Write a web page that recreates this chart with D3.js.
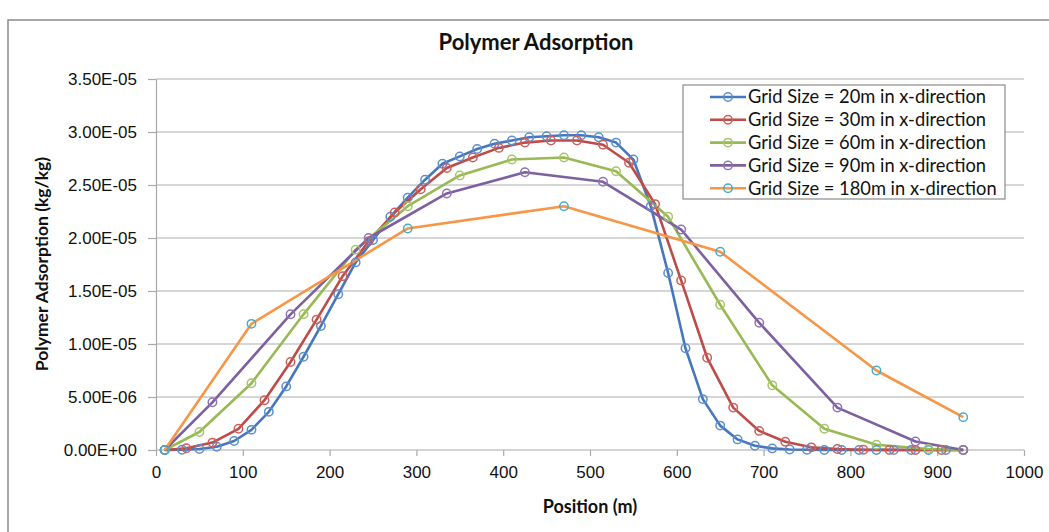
<!DOCTYPE html>
<html lang="en">
<head>
    <meta charset="UTF-8">
    <title>Polymer Adsorption</title>
    <script src="https://d3js.org/d3.v7.min.js"></script>
    <style>
        body { margin: 0; background: #fff; }
        svg { font-family: Lato, "Open Sans", sans-serif; }
        .grid line { stroke: #c8c8c8; stroke-width: 1.5; }
        .axis path, .axis line { stroke: #aaa; stroke-width: 1.2; }
        .axis text { fill: #111; font-size: 17px; }
    </style>
</head>
<body>
<svg id="chart" width="1049" height="532"></svg>
<script>
    // Data (values in kg/kg)
    const x20 = [10, 30, 50, 70, 90, 110, 130, 150, 170, 190, 210, 230, 250, 270, 290, 310, 330, 350, 370, 390,
                 410, 430, 450, 470, 490, 510, 530, 550, 570, 590, 610, 630, 650, 670, 690, 710, 730, 750, 770, 790,
                 810, 830, 850, 870, 890, 910, 930];
    const y20 = [0, 0.003, 0.01, 0.03, 0.085, 0.19, 0.36, 0.60, 0.88, 1.17, 1.47, 1.77, 1.98, 2.20, 2.38, 2.55, 2.70, 2.77, 2.84, 2.89,
                 2.92, 2.95, 2.96, 2.97, 2.97, 2.95, 2.90, 2.74, 2.30, 1.67, 0.96, 0.48, 0.23, 0.10, 0.04, 0.015, 0.005, 0.002, 0, 0,
                 0, 0, 0, 0, 0, 0, 0];

    const x30 = [10, 35, 65, 95, 125, 155, 185, 215, 245, 275, 305, 335, 365, 395, 425, 455, 485, 515, 545, 575,
                 605, 635, 665, 695, 725, 755, 785, 815, 845, 875, 905, 930];
    const y30 = [0, 0.016, 0.07, 0.20, 0.47, 0.83, 1.23, 1.64, 1.97, 2.24, 2.46, 2.66, 2.76, 2.85, 2.90, 2.92, 2.92, 2.88, 2.71, 2.32,
                 1.60, 0.87, 0.40, 0.18, 0.078, 0.025, 0.01, 0.003, 0.001, 0, 0, 0];

    const x60 = [10, 50, 110, 170, 230, 290, 350, 410, 470, 530, 590, 650, 710, 770, 830, 890, 930];
    const y60 = [0, 0.17, 0.63, 1.28, 1.89, 2.30, 2.59, 2.74, 2.76, 2.63, 2.20, 1.37, 0.61, 0.20, 0.05, 0.01, 0];

    const x90 = [10, 65, 155, 245, 335, 425, 515, 605, 695, 785, 875, 930];
    const y90 = [0, 0.45, 1.28, 2.00, 2.42, 2.62, 2.53, 2.08, 1.20, 0.40, 0.08, 0];

    const x180 = [10, 110, 290, 470, 650, 830, 930];
    const y180 = [0, 1.19, 2.09, 2.30, 1.87, 0.75, 0.31];

    const seriesNames = [
        "Grid Size = 20m in x-direction",
        "Grid Size = 30m in x-direction",
        "Grid Size = 60m in x-direction",
        "Grid Size = 90m in x-direction",
        "Grid Size = 180m in x-direction"
    ];
    const lineColors = ["#4677be", "#be4b48", "#98b954", "#7d60a0", "#f79646"];
    const markerColors = ["#5b8fcf", "#c9605d", "#a6c46a", "#8f74b0", "#4bacc6"];

    const xTicks = [0, 100, 200, 300, 400, 500, 600, 700, 800, 900, 1000];
    const yTicks = [0, 5e-6, 1e-5, 1.5e-5, 2e-5, 2.5e-5, 3e-5, 3.5e-5];

    const scale = 1e-5;
    const series = [
        [x20, y20], [x30, y30], [x60, y60], [x90, y90], [x180, y180]
    ].map(([xs, ys], i) => ({
        name: seriesNames[i],
        line: lineColors[i],
        marker: markerColors[i],
        points: xs.map((x, j) => ({ x: x, y: ys[j] * scale }))
    }));

    const svg = d3.select("#chart");
    const W = 1049, H = 532;
    const plot = { left: 156, right: 1024, top: 79, bottom: 450 };

    // chart border
    svg.append("rect")
        .attr("x", 8).attr("y", 20)
        .attr("width", W + 20).attr("height", H + 20)
        .attr("fill", "#fff")
        .attr("stroke", "#8a8a8a").attr("stroke-width", 1.5);

    const x = d3.scaleLinear().domain([0, 1000]).range([plot.left, plot.right]);
    const y = d3.scaleLinear().domain([0, 3.5e-5]).range([plot.bottom, plot.top]);

    function sci(v) {
        const s = v.toExponential(2);
        const [m, e] = s.split("e");
        const sign = e[0] === "-" ? "-" : "+";
        const digits = e.replace(/[+-]/, "").padStart(2, "0");
        return m + "E" + sign + digits;
    }

    // gridlines
    svg.append("g").attr("class", "grid")
        .selectAll("line").data(yTicks.slice(1)).enter().append("line")
        .attr("x1", plot.left).attr("x2", plot.right)
        .attr("y1", d => y(d)).attr("y2", d => y(d));

    // axes
    svg.append("g").attr("class", "axis")
        .attr("transform", `translate(0,${plot.bottom})`)
        .call(d3.axisBottom(x).tickValues(xTicks).tickFormat(d3.format("d")).tickSize(6).tickSizeOuter(0).tickPadding(10))
        .call(g => g.select(".domain").attr("d", `M${plot.left},0H${plot.right}`));

    svg.append("g").attr("class", "axis")
        .attr("transform", `translate(${plot.left},0)`)
        .call(d3.axisLeft(y).tickValues(yTicks).tickFormat(sci).tickSize(8).tickSizeOuter(0).tickPadding(11));

    // lines and markers
    const line = d3.line().x(d => x(d.x)).y(d => y(d.y));
    const gS = svg.append("g");
    series.forEach(s => {
        gS.append("path")
            .datum(s.points)
            .attr("d", line)
            .attr("fill", "none")
            .attr("stroke", s.line)
            .attr("stroke-width", 2.6)
            .attr("stroke-linejoin", "round");
    });
    series.forEach(s => {
        gS.append("g").selectAll("circle").data(s.points).enter().append("circle")
            .attr("cx", d => x(d.x)).attr("cy", d => y(d.y))
            .attr("r", 4.2)
            .attr("fill", "none")
            .attr("stroke", s.marker)
            .attr("stroke-width", 1.5);
    });

    // title
    svg.append("text")
        .attr("x", 536).attr("y", 50)
        .attr("text-anchor", "middle")
        .attr("font-size", 22).attr("font-weight", "bold").attr("fill", "#111")
        .text("Polymer Adsorption");

    // axis titles
    svg.append("text")
        .attr("x", 590).attr("y", 513)
        .attr("text-anchor", "middle")
        .attr("font-size", 18).attr("font-weight", "bold").attr("fill", "#111")
        .text("Position (m)");

    svg.append("text")
        .attr("transform", "translate(48,264) rotate(-90)")
        .attr("text-anchor", "middle")
        .attr("font-size", 17.5).attr("font-weight", "bold").attr("fill", "#111")
        .text("Polymer Adsorption (kg/kg)");

    // legend
    const lg = svg.append("g");
    lg.append("rect")
        .attr("x", 683).attr("y", 85)
        .attr("width", 322).attr("height", 114)
        .attr("fill", "#fff")
        .attr("stroke", "#8a8a8a").attr("stroke-width", 1.2);

    series.forEach((s, i) => {
        const ly = 97 + i * 22.8;
        lg.append("line")
            .attr("x1", 710).attr("x2", 746)
            .attr("y1", ly).attr("y2", ly)
            .attr("stroke", s.line).attr("stroke-width", 2.6);
        lg.append("circle")
            .attr("cx", 728).attr("cy", ly).attr("r", 4.2)
            .attr("fill", "none").attr("stroke", s.marker).attr("stroke-width", 1.5);
        lg.append("text")
            .attr("x", 748).attr("y", ly)
            .attr("dy", "0.35em")
            .attr("font-size", 18.3).attr("fill", "#111")
            .text(s.name);
    });
</script>
</body>
</html>
